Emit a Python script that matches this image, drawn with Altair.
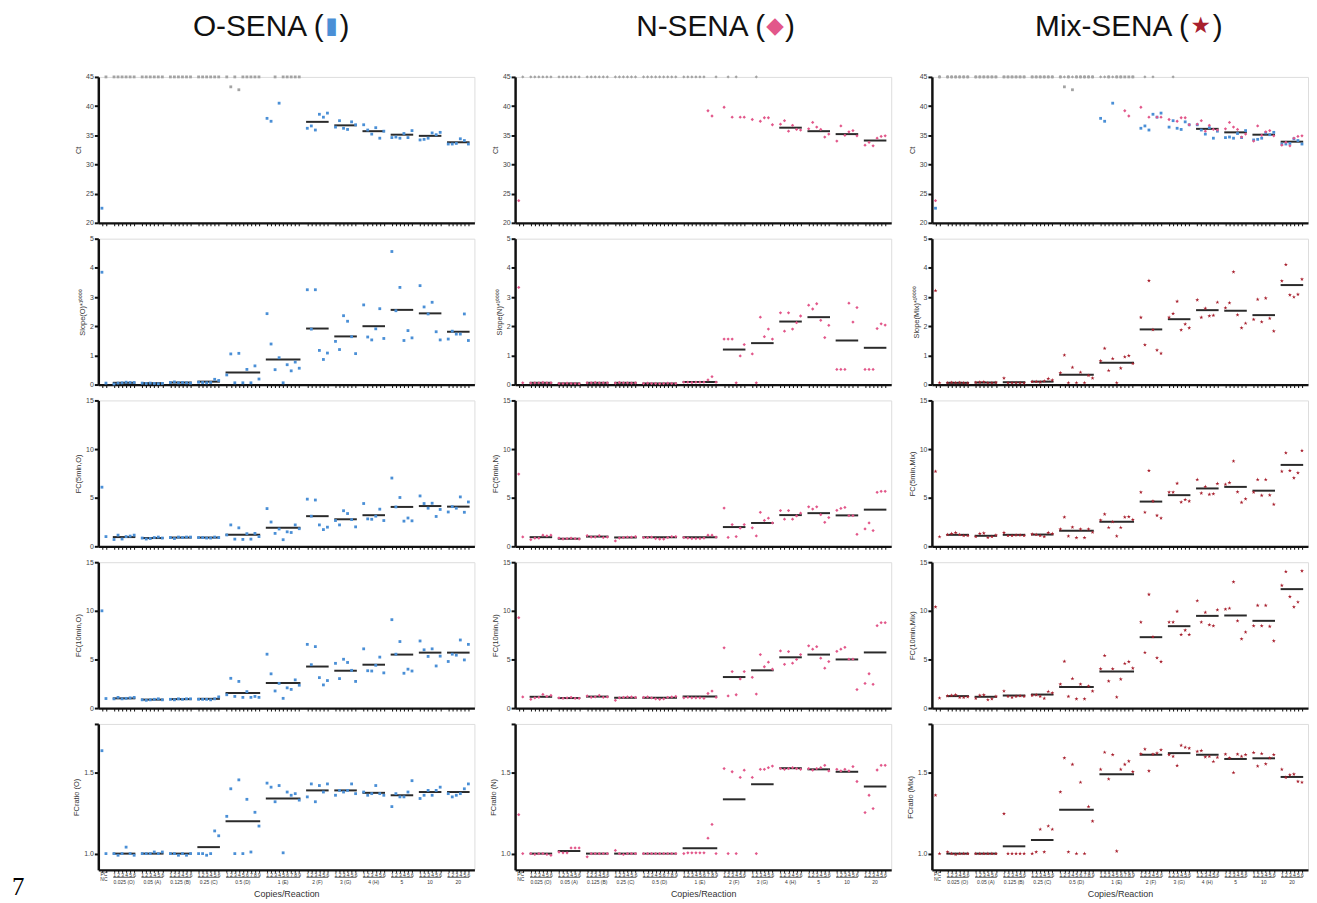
import altair as alt
import pandas as pd

# ---------------- categories ----------------
GROUPS = ["0.025 (O)", "0.05 (A)", "0.125 (B)", "0.25 (C)", "0.5 (D)", "1 (E)",
          "2 (F)", "3 (G)", "4 (H)", "5", "10", "20"]
REPS = [6, 6, 6, 6, 9, 9, 6, 6, 6, 6, 6, 6]
CONTROLS = ["PC", "NC"]
COL_TITLES = [("O-SENA (", "\u25ae", ")"), ("N-SENA (", "\u25c6", ")"), ("Mix-SENA (", "\u2605", ")")]
TITLE_SYM_X = [235, 262, 271]
TITLE_GAP = [8, 10, 12]
SYM_COLORS = ["#4a8fd6", "#e2578a", "#a8202e"]
Y_TITLES = [
    ["Ct", "Slope(O)*\u00b9\u2070\u2070\u2070\u2070", "FC(5min,O)", "FC(10min,O)", "FCratio (O)"],
    ["Ct", "Slope(N)*\u00b9\u2070\u2070\u2070\u2070", "FC(5min,N)", "FC(10min,N)", "FCratio (N)"],
    ["Ct", "Slope(Mix)*\u00b9\u2070\u2070\u2070\u2070", "FC(5min,Mix)", "FC(10min,Mix)", "FCratio (Mix)"],
]

# ---------------- values: [PC, NC] + reps of each group in order ----------------
O_CT = [22.5, 45] + [45] * 24 + \
    [45, 43.3, 45, 42.8, 45, 45, 45, 45, 45] + \
    [37.9, 37.4, 45, 40.5, 45, 45, 45, 45, 45] + \
    [36.2, 36.6, 35.9, 38.6, 38.1, 38.8] + [36.4, 37.5, 36.2, 36.0, 37.3, 36.8] + \
    [36.8, 35.9, 35.2, 36.3, 34.5, 35.7] + [34.6, 34.7, 34.5, 35.3, 34.6, 35.8] + \
    [34.2, 34.3, 34.5, 35.4, 35.1, 35.5] + [33.5, 33.5, 33.6, 34.4, 34.1, 33.5]
O_CT_MEAN = [None, None, None, None, None, None, 37.3, 36.7, 35.7, 35.1, 34.9, 33.8]

O_SLOPE = [3.85, 0.05] + \
    [0.02, 0.05, 0.06, 0.08, 0.07, 0.07] + [0.05, 0.04, 0.05, 0.04, 0.03, 0.04] + \
    [0.07, 0.09, 0.06, 0.07, 0.06, 0.05] + [0.08, 0.07, 0.06, 0.07, 0.18, 0.14] + \
    [0.33, 1.05, 0.06, 1.07, 0.06, 0.52, 0.06, 0.64, 0.19] + \
    [2.43, 1.39, 0.51, 0.92, 0.06, 0.68, 0.47, 0.77, 0.56] + \
    [3.25, 1.9, 3.25, 1.17, 0.86, 1.08] + [1.48, 1.2, 2.36, 2.17, 1.64, 1.06] + \
    [2.73, 1.63, 1.53, 1.91, 2.6, 1.58] + [4.56, 2.53, 3.33, 1.51, 1.85, 1.6] + \
    [3.39, 2.66, 2.42, 2.82, 1.81, 1.53] + [1.56, 1.83, 1.73, 1.73, 2.42, 1.51]
O_SLOPE_MEAN = [0.06, 0.05, 0.07, 0.1, 0.41, 0.86, 1.92, 1.65, 2.0, 2.56, 2.44, 1.81]

O_FC5 = [6.08, 1.0] + \
    [0.7, 1.15, 0.75, 1.0, 1.05, 1.15] + [0.85, 0.75, 0.8, 0.9, 0.95, 0.85] + \
    [0.9, 0.8, 0.95, 0.9, 0.95, 0.95] + [0.9, 0.9, 0.85, 0.85, 0.95, 0.9] + \
    [1.17, 2.2, 0.74, 1.9, 0.71, 1.3, 0.74, 1.33, 1.0] + \
    [3.88, 2.5, 1.33, 1.78, 0.68, 1.49, 1.42, 2.2, 1.81] + \
    [4.85, 3.1, 4.76, 2.2, 1.72, 1.97] + [2.65, 2.2, 3.66, 3.37, 2.75, 2.0] + \
    [4.4, 2.82, 2.78, 3.1, 3.82, 2.65] + [7.02, 4.05, 5.02, 2.59, 2.91, 2.62] + \
    [5.18, 4.4, 3.92, 4.43, 3.07, 3.79] + [3.53, 4.08, 3.92, 5.08, 3.5, 4.56]
O_FC5_MEAN = [0.95, 0.85, 0.9, 0.9, 1.2, 1.9, 3.1, 2.78, 3.2, 4.05, 4.14, 4.08]

O_FC10 = [10.0, 0.98] + \
    [0.95, 1.1, 0.95, 1.0, 1.05, 1.1] + [0.85, 0.8, 0.85, 0.9, 0.95, 0.85] + \
    [0.9, 0.85, 0.95, 0.9, 0.95, 0.95] + [0.9, 0.9, 0.9, 0.85, 0.95, 1.15] + \
    [1.37, 3.06, 1.2, 2.74, 1.1, 1.69, 1.1, 1.2, 1.1] + \
    [5.54, 3.52, 1.76, 2.54, 1.0, 2.08, 1.92, 2.9, 2.35] + \
    [6.55, 4.46, 6.32, 3.13, 2.38, 2.83] + [4.6, 3.03, 5.02, 4.69, 3.88, 2.74] + \
    [6.09, 3.84, 3.81, 4.4, 5.24, 3.62] + [9.09, 5.54, 6.84, 3.58, 4.0, 3.81] + \
    [6.9, 5.99, 5.31, 6.09, 4.33, 5.34] + [4.79, 5.54, 5.44, 7.0, 4.95, 6.55]
O_FC10_MEAN = [1.0, 0.87, 0.92, 0.95, 1.56, 2.57, 4.27, 3.84, 4.46, 5.5, 5.7, 5.7]

O_FCR = [1.635, 1.0] + \
    [1.0, 0.99, 1.0, 1.04, 1.0, 0.99] + [1.0, 1.0, 1.0, 1.01, 1.0, 1.01] + \
    [1.0, 1.0, 0.99, 1.0, 0.99, 1.0] + [1.0, 1.0, 0.99, 1.0, 1.14, 1.11] + \
    [1.23, 1.4, 1.0, 1.455, 1.0, 1.335, 1.01, 1.255, 1.17] + \
    [1.435, 1.41, 1.32, 1.42, 1.005, 1.38, 1.36, 1.37, 1.33] + \
    [1.35, 1.43, 1.32, 1.42, 1.38, 1.43] + [1.36, 1.39, 1.38, 1.39, 1.43, 1.37] + \
    [1.38, 1.36, 1.37, 1.42, 1.37, 1.36] + [1.29, 1.37, 1.35, 1.35, 1.38, 1.45] + \
    [1.34, 1.36, 1.39, 1.36, 1.39, 1.41] + [1.37, 1.35, 1.36, 1.37, 1.4, 1.43]
O_FCR_MEAN = [1.0, 1.0, 1.0, 1.04, 1.2, 1.34, 1.39, 1.39, 1.375, 1.36, 1.38, 1.38]

N_CT = [23.8, 45] + [45] * 24 + [45] * 9 + \
    [45, 45, 45, 45, 45, 45, 39.2, 38.3, 45] + \
    [39.8, 45, 38.1, 45, 38.1, 38.1] + [37.7, 45, 37.4, 38.0, 38.0, 36.8] + \
    [36.9, 37.5, 35.7, 36.7, 36.0, 35.9] + [36.1, 37.2, 36.4, 36.0, 34.7, 35.2] + \
    [34.0, 36.6, 35.0, 35.6, 35.8, 34.9] + [33.3, 33.8, 33.2, 34.5, 34.8, 34.9]
N_CT_MEAN = [None, None, None, None, None, None, None, None, 36.3, 35.7, 35.2, 34.1]

N_SLOPE = [3.33, 0.06] + \
    [0.05, 0.06, 0.06, 0.07, 0.06, 0.06] + [0.04, 0.04, 0.05, 0.04, 0.04, 0.03] + \
    [0.06, 0.06, 0.07, 0.06, 0.06, 0.06] + [0.05, 0.07, 0.06, 0.06, 0.05, 0.06] + \
    [0.04, 0.05, 0.04, 0.04, 0.03, 0.04, 0.05, 0.04, 0.04] + \
    [0.08, 0.08, 0.07, 0.08, 0.08, 0.08, 0.16, 0.27, 0.08] + \
    [1.56, 1.56, 1.56, 0.06, 0.98, 1.37] + [1.05, 0.06, 2.31, 1.64, 1.9, 1.56] + \
    [2.46, 1.83, 2.46, 1.9, 2.12, 2.35] + [2.72, 2.59, 2.77, 2.2, 1.61, 2.03] + \
    [0.52, 0.52, 0.52, 2.79, 2.14, 2.64] + [0.52, 0.52, 0.52, 1.92, 2.08, 2.04]
N_SLOPE_MEAN = [0.06, 0.04, 0.06, 0.06, 0.04, 0.09, 1.2, 1.42, 2.16, 2.31, 1.51, 1.26]

N_FC5 = [7.43, 0.97] + \
    [0.68, 0.84, 0.84, 1.14, 1.07, 1.14] + [0.85, 0.75, 0.8, 0.85, 0.78, 0.75] + \
    [1.1, 0.95, 0.95, 1.1, 0.9, 0.95] + [0.55, 0.85, 0.9, 0.95, 0.95, 1.0] + \
    [0.9, 0.9, 0.95, 0.8, 0.75, 0.75, 0.9, 1.0, 1.0] + \
    [0.9, 0.85, 0.8, 0.8, 0.8, 0.85, 1.15, 1.15, 0.95] + \
    [3.93, 0.91, 2.24, 1.0, 1.88, 2.24] + [1.9, 1.07, 3.5, 2.66, 2.89, 2.4] + \
    [3.67, 2.79, 3.67, 2.79, 3.12, 3.41] + [4.06, 3.83, 4.06, 3.25, 2.47, 2.95] + \
    [3.7, 3.9, 4.0, 3.15, 3.15, 1.23] + [1.79, 2.4, 1.62, 5.55, 5.65, 5.65]
N_FC5_MEAN = [0.94, 0.78, 1.0, 0.91, 0.94, 0.94, 1.98, 2.4, 3.21, 3.41, 3.18, 3.77]

N_FC10 = [9.3, 1.15] + \
    [0.9, 1.05, 1.1, 1.4, 1.2, 1.3] + [1.05, 1.0, 1.05, 1.1, 1.0, 1.0] + \
    [1.25, 1.1, 1.15, 1.3, 1.1, 1.15] + [0.8, 1.05, 1.1, 1.15, 1.15, 1.1] + \
    [1.1, 1.15, 1.05, 0.95, 0.9, 0.95, 1.1, 1.15, 1.2] + \
    [1.05, 1.1, 1.05, 1.05, 1.05, 1.0, 1.5, 1.75, 1.1] + \
    [6.2, 1.25, 3.75, 1.37, 3.0, 3.75] + [3.16, 1.44, 5.5, 4.25, 4.72, 4.0] + \
    [5.88, 4.5, 5.81, 4.62, 5.0, 5.5] + [6.4, 6.06, 6.31, 5.13, 4.1, 4.78] + \
    [5.84, 6.06, 6.25, 5.03, 5.03, 1.9] + [2.53, 3.53, 2.44, 8.47, 8.78, 8.78]
N_FC10_MEAN = [1.16, 1.03, 1.18, 1.06, 1.06, 1.18, 3.19, 3.88, 5.22, 5.5, 5.0, 5.72]

N_FCR = [1.24, 1.0] + \
    [1.0, 0.995, 1.0, 1.0, 0.995, 0.99] + [1.01, 1.005, 1.005, 1.035, 1.035, 1.035] + \
    [0.98, 1.0, 1.0, 1.0, 1.0, 1.0] + [1.02, 1.0, 0.995, 1.0, 1.0, 1.0] + \
    [1.0, 1.0, 1.0, 1.0, 1.0, 1.0, 1.0, 1.0, 1.0] + \
    [1.0, 1.005, 1.005, 1.005, 1.005, 1.005, 1.095, 1.18, 1.0] + \
    [1.525, 1.0, 1.505, 1.0, 1.47, 1.515] + [1.47, 1.0, 1.52, 1.52, 1.53, 1.54] + \
    [1.525, 1.52, 1.525, 1.53, 1.525, 1.52] + [1.525, 1.515, 1.525, 1.53, 1.545, 1.51] + \
    [1.52, 1.51, 1.52, 1.51, 1.537, 1.445] + [1.253, 1.36, 1.278, 1.516, 1.545, 1.545]
N_FCR_MEAN = [1.0, 1.016, 1.0, 1.0, 1.0, 1.033, 1.335, 1.428, 1.527, 1.52, 1.505, 1.414]

MIX_CT_MEAN = [None, None, None, None, None, None, None, None, 36.1, 35.5, 35.1, 33.9]

MIX_SLOPE = [3.22, 0.06] + \
    [0.06, 0.07, 0.06, 0.07, 0.06, 0.05] + [0.07, 0.08, 0.09, 0.06, 0.06, 0.07] + \
    [0.22, 0.06, 0.06, 0.06, 0.06, 0.05] + [0.1, 0.1, 0.08, 0.12, 0.2, 0.15] + \
    [0.4, 1.01, 0.06, 0.59, 0.06, 0.42, 0.06, 0.31, 0.22] + \
    [0.81, 1.24, 0.48, 0.89, 0.06, 0.56, 0.95, 0.99, 0.72] + \
    [2.3, 1.36, 3.56, 1.88, 1.18, 1.07] + [2.3, 2.43, 2.85, 1.87, 2.07, 1.94] + \
    [2.9, 2.3, 2.61, 2.35, 2.37, 2.82] + [2.63, 2.8, 3.86, 2.39, 1.94, 2.1] + \
    [2.23, 2.92, 2.15, 2.96, 2.27, 1.83] + [3.55, 4.11, 3.07, 3.0, 3.09, 3.61]
MIX_SLOPE_MEAN = [0.06, 0.07, 0.08, 0.1, 0.34, 0.75, 1.89, 2.24, 2.55, 2.53, 2.38, 3.41]

MIX_FC5 = [7.71, 0.98] + \
    [1.2, 1.3, 1.4, 1.2, 1.1, 1.1] + [1.0, 1.3, 1.35, 0.9, 1.0, 1.15] + \
    [1.4, 1.1, 1.1, 1.15, 1.15, 1.1] + [1.25, 1.2, 1.1, 1.0, 1.4, 1.3] + \
    [1.76, 3.0, 1.05, 1.96, 0.88, 1.76, 0.88, 1.76, 1.44] + \
    [2.68, 3.3, 1.93, 2.52, 1.05, 1.93, 3.0, 3.04, 2.74] + \
    [5.56, 3.5, 7.78, 4.64, 3.17, 2.9] + [5.56, 5.56, 6.47, 4.54, 4.8, 4.64] + \
    [6.86, 5.46, 6.14, 5.33, 5.39, 6.44] + [6.37, 6.54, 8.76, 5.59, 4.51, 4.87] + \
    [5.56, 6.86, 5.23, 6.86, 5.26, 4.31] + [7.71, 9.61, 7.78, 7.03, 7.55, 9.84]
MIX_FC5_MEAN = [1.18, 1.08, 1.18, 1.21, 1.6, 2.52, 4.6, 5.26, 5.95, 6.11, 5.72, 8.37]

MIX_FC10 = [10.4, 1.03] + \
    [1.25, 1.3, 1.35, 1.1, 1.1, 1.15] + [1.0, 1.3, 1.35, 0.85, 0.95, 1.2] + \
    [1.75, 1.2, 1.1, 1.2, 1.25, 1.2] + [1.3, 1.35, 1.2, 1.0, 1.7, 1.55] + \
    [2.45, 4.8, 1.19, 3.03, 0.94, 2.45, 0.94, 2.26, 1.74] + \
    [4.03, 5.39, 2.77, 4.03, 1.13, 2.97, 4.58, 4.77, 4.1] + \
    [8.84, 5.71, 11.68, 7.32, 5.16, 4.77] + [8.84, 8.84, 9.94, 7.55, 8.0, 7.55] + \
    [11.03, 8.84, 9.84, 8.55, 8.45, 10.1] + [10.16, 10.26, 12.97, 8.97, 7.1, 7.81] + \
    [8.45, 10.55, 8.45, 10.55, 8.39, 6.9] + [12.61, 14.03, 11.45, 10.39, 10.9, 14.1]
MIX_FC10_MEAN = [1.23, 1.16, 1.29, 1.39, 2.16, 3.77, 7.29, 8.42, 9.48, 9.52, 8.97, 12.23]

MIX_FCR = [1.36, 1.0] + \
    [1.01, 1.0, 0.995, 1.0, 1.0, 1.0] + [1.0, 1.0, 1.0, 1.0, 1.0, 1.0] + \
    [1.246, 1.0, 1.0, 1.0, 1.0, 1.0] + [1.0, 1.01, 1.15, 1.01, 1.17, 1.15] + \
    [1.38, 1.59, 1.01, 1.55, 1.0, 1.44, 1.0, 1.29, 1.2] + \
    [1.52, 1.625, 1.46, 1.61, 1.015, 1.52, 1.55, 1.57, 1.505] + \
    [1.615, 1.645, 1.51, 1.613, 1.62, 1.64] + [1.61, 1.6, 1.543, 1.668, 1.656, 1.65] + \
    [1.63, 1.635, 1.596, 1.6, 1.568, 1.594] + [1.613, 1.59, 1.5, 1.613, 1.6, 1.61] + \
    [1.623, 1.54, 1.617, 1.553, 1.59, 1.61] + [1.52, 1.47, 1.486, 1.49, 1.445, 1.44]
MIX_FCR_MEAN = [1.0, 1.0, 1.045, 1.084, 1.27, 1.49, 1.61, 1.62, 1.61, 1.584, 1.588, 1.473]

# ---------------- styles ----------------
BLUE, PINK, RED, GRAY = "#4a8fd6", "#e2578a", "#a8202e", "#a3a3a3"
STAR = ("M0,-1L0.2245,-0.309L0.951,-0.309L0.363,0.118L0.588,0.809L0,0.382"
        "L-0.588,0.809L-0.363,0.118L-0.951,-0.309L-0.2245,-0.309Z")
FONT = "Liberation Sans"
W, H = 379, 147

# x positions (rep index with one empty slot between groups)
POS = [0, 1]
GROUP_POS = []
start = 3
for n in REPS:
    GROUP_POS.append(list(range(start, start + n)))
    POS += GROUP_POS[-1]
    start += n + 1
XDOM = [-0.9, POS[-1] + 1.5]
lab_by_pos = [""] * (POS[-1] + 1)
for g in GROUP_POS:
    for k, p in enumerate(g):
        lab_by_pos[p] = str(k + 1)
LABEL_EXPR = "[" + ",".join("'%s'" % s for s in lab_by_pos) + "][datum.value]"

METRICS = [
    ([20, 45], [20, 25, 30, 35, 40, 45], "d"),
    ([0, 5], [0, 1, 2, 3, 4, 5], "d"),
    ([0, 15], [0, 5, 10, 15], "d"),
    ([0, 15], [0, 5, 10, 15], "d"),
    ([0.9, 1.8], [1.0, 1.5, 1.8], ".1f"),
]

COLS = [
    [[(O_CT, "square", BLUE)], [(O_SLOPE, "square", BLUE)], [(O_FC5, "square", BLUE)],
     [(O_FC10, "square", BLUE)], [(O_FCR, "square", BLUE)]],
    [[(N_CT, "diamond", PINK)], [(N_SLOPE, "diamond", PINK)], [(N_FC5, "diamond", PINK)],
     [(N_FC10, "diamond", PINK)], [(N_FCR, "diamond", PINK)]],
    [[(O_CT, "square", BLUE), (N_CT, "diamond", PINK)], [(MIX_SLOPE, STAR, RED)],
     [(MIX_FC5, STAR, RED)], [(MIX_FC10, STAR, RED)], [(MIX_FCR, STAR, RED)]],
]
MEANS = [
    [O_CT_MEAN, O_SLOPE_MEAN, O_FC5_MEAN, O_FC10_MEAN, O_FCR_MEAN],
    [N_CT_MEAN, N_SLOPE_MEAN, N_FC5_MEAN, N_FC10_MEAN, N_FCR_MEAN],
    [MIX_CT_MEAN, MIX_SLOPE_MEAN, MIX_FC5_MEAN, MIX_FC10_MEAN, MIX_FCR_MEAN],
]


def panel(ci, ri):
    ydom, yvals, fmt = METRICS[ri]
    bottom = ri == 4
    rows = []
    for vals, shape, color in COLS[ci][ri]:
        for p, v in zip(POS, vals):
            fill = GRAY if (ri == 0 and v > 42) else color
            size = 18 if shape == STAR else (11 if shape == "diamond" else 8)
            rows.append({"x": p, "y": v, "fill": fill, "shape": shape, "size": size})
    pts = pd.DataFrame(rows)
    mrows = [{"x1": g[0] - 0.3, "x2": g[-1] + 0.3, "y": m}
             for g, m in zip(GROUP_POS, MEANS[ci][ri]) if m is not None]
    mdf = pd.DataFrame(mrows)

    xs = alt.Scale(domain=XDOM, nice=False, zero=False)
    ys = alt.Scale(domain=ydom, nice=False, zero=False)
    xaxis = alt.Axis(values=POS, domainWidth=2.2, domainColor="#111", tickColor="#222",
                     tickWidth=1.1, tickSize=2.5 if bottom else 3, grid=False,
                     labels=bottom, labelExpr=LABEL_EXPR, labelFontSize=5,
                     labelPadding=0.5, labelAngle=0, labelOverlap=False, labelFlush=False,
                     labelColor="#333", labelFont=FONT,
                     titleFontSize=9, titleFontWeight="normal", titleColor="#333",
                     titlePadding=12, titleFont=FONT)
    yaxis = alt.Axis(values=yvals, format=fmt, domainWidth=2.5, domainColor="#111",
                     tickColor="#111", tickWidth=2, tickSize=4, grid=False,
                     labelFontSize=7, labelColor="#444", labelPadding=1, labelFont=FONT,
                     labelExpr="datum.value > 1.7 && datum.value < 1.9 ? '' : datum.label",
                     titleFontSize=7.5, titleFontWeight="normal", titleColor="#333",
                     titlePadding=3, titleFont=FONT)

    def X(f):
        if bottom:
            return alt.X(f, type="quantitative", scale=xs, axis=xaxis, title="Copies/Reaction")
        return alt.X(f, type="quantitative", scale=xs, axis=xaxis, title=None)

    def Y(f):
        return alt.Y(f, type="quantitative", scale=ys, axis=yaxis, title=Y_TITLES[ci][ri])

    layers = []
    layers.append(alt.Chart(mdf).mark_rule(strokeWidth=2, color="#2a2a2a").encode(
        x=X("x1"), x2=alt.X2("x2"), y=Y("y")))
    layers.append(alt.Chart(pts).mark_point(filled=True, opacity=1, strokeWidth=0).encode(
        x=X("x"), y=Y("y"),
        fill=alt.Fill("fill:N", scale=None),
        shape=alt.Shape("shape:N", scale=None),
        size=alt.Size("size:Q", scale=None)))

    if bottom:
        gdf = pd.DataFrame({"x1": [g[0] - 0.2 for g in GROUP_POS],
                            "x2": [g[-1] + 0.2 for g in GROUP_POS],
                            "xm": [(g[0] + g[-1]) / 2 for g in GROUP_POS],
                            "label": GROUPS})
        layers.append(alt.Chart(gdf).mark_rule(strokeWidth=0.8, color="#333").encode(
            x=X("x1"), x2=alt.X2("x2"), y=alt.value(H + 7.5)))
        layers.append(alt.Chart(gdf).mark_text(fontSize=5, color="#333", font=FONT,
                                               baseline="middle").encode(
            x=X("xm"), y=alt.value(H + 12), text="label:N"))
        cdf = pd.DataFrame({"x": [(POS[0] + POS[1]) / 2] * 2, "label": CONTROLS,
                            "dy": [H + 4.5, H + 9]})
        layers.append(alt.Chart(cdf).mark_text(fontSize=5, color="#333", font=FONT,
                                               baseline="middle").encode(
            x=X("x"), y=alt.Y("dy:Q", scale=None), text="label:N"))
        if ci == 0:
            sdf = pd.DataFrame({"t": ["7"]})
            layers.append(alt.Chart(sdf).mark_text(fontSize=25, font="Liberation Serif",
                                                   align="left", baseline="alphabetic",
                                                   color="#000").encode(
                x=alt.value(-87), y=alt.value(172), text="t:N"))
    if ri == 0:
        pre, sym, post = COL_TITLES[ci]
        tdf = pd.DataFrame({"pre": [pre], "sym": [sym], "post": [post]})
        sx, gap = TITLE_SYM_X[ci], TITLE_GAP[ci]
        layers.append(alt.Chart(tdf).mark_text(fontSize=30, font=FONT, align="right",
                                               baseline="top", color="#111").encode(
            x=alt.value(sx - gap), y=alt.value(-65), text="pre:N"))
        layers.append(alt.Chart(tdf).mark_text(fontSize=23, font="DejaVu Sans", align="center",
                                               baseline="top",
                                               color=SYM_COLORS[ci]).encode(
            x=alt.value(sx), y=alt.value(-62), text="sym:N"))
        layers.append(alt.Chart(tdf).mark_text(fontSize=30, font=FONT, align="left",
                                               baseline="top", color="#111").encode(
            x=alt.value(sx + gap), y=alt.value(-65), text="post:N"))

    return alt.layer(*layers).properties(width=W, height=H)


panels = [panel(ci, ri) for ri in range(5) for ci in range(3)]

chart = alt.concat(*panels, columns=3, spacing={"row": 16, "column": 41},
                   bounds="flush").properties(
    padding={"left": 3, "top": 0, "right": 0, "bottom": 2}
).configure_view(strokeWidth=0).configure(font=FONT)

chart.save("out.html", embed_options={"renderer": "svg", "actions": False})
